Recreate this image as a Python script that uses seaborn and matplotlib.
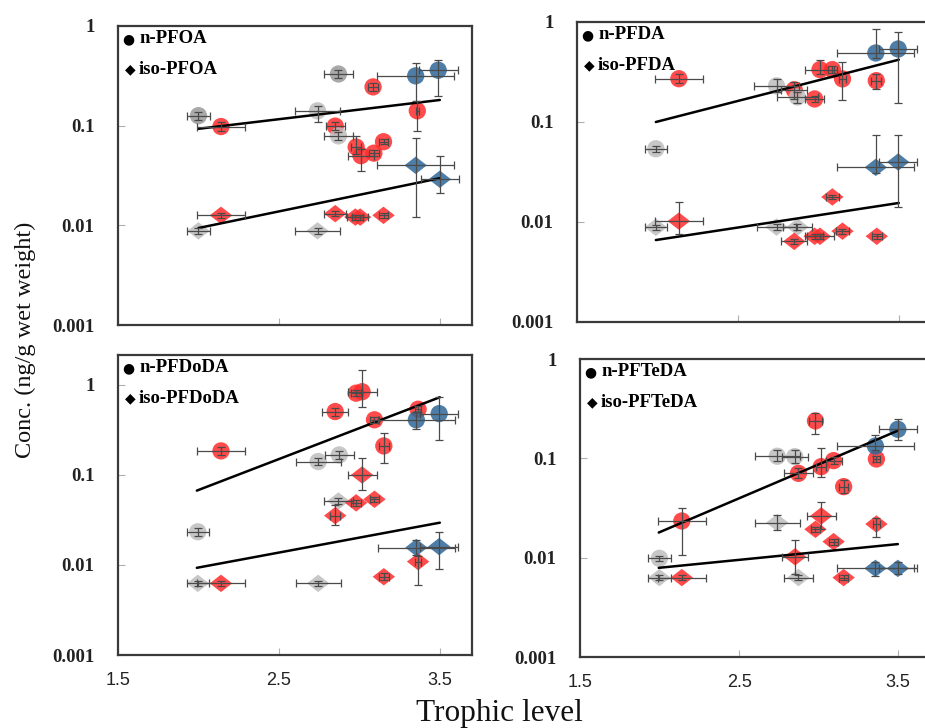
import numpy as np
import pandas as pd
import matplotlib
matplotlib.use("Agg")
import matplotlib.pyplot as plt
import seaborn as sns
from matplotlib.ticker import FixedLocator, NullLocator, FixedFormatter

sns.set_theme(style="white")
plt.rcParams["font.family"] = ["Liberation Serif", "DejaVu Serif", "DejaVu Sans"]

# ---------------- data ----------------
# Panel 1: PFOA
pfoa_n_tl = [2.00, 2.14, 2.87, 3.085, 2.74, 2.85, 2.87, 2.98, 3.01, 3.09, 3.15, 3.36, 3.35, 3.49]
pfoa_n_conc = [0.126, 0.098, 0.33, 0.245, 0.141, 0.099, 0.079, 0.061, 0.050, 0.053, 0.069, 0.141, 0.316, 0.36]
pfoa_n_xerr = [0.07, 0.15, 0.09, 0.03, 0.14, 0.06, 0.09, 0.03, 0.08, 0.03, 0.03, 0.01, 0.24, 0.12]
pfoa_n_lo = [0.115, 0.088, 0.30, 0.225, 0.108, 0.090, 0.072, 0.052, 0.035, 0.050, 0.065, 0.089, 0.178, 0.20]
pfoa_n_hi = [0.138, 0.108, 0.36, 0.265, 0.158, 0.108, 0.086, 0.078, 0.058, 0.057, 0.073, 0.178, 0.43, 0.46]
pfoa_n_grp = ["K", "R", "K", "R", "G", "R", "G", "R", "R", "R", "R", "R", "B", "B"]

pfoa_i_tl = [2.00, 2.14, 2.74, 2.85, 2.975, 3.005, 3.15, 3.35, 3.50]
pfoa_i_conc = [0.0088, 0.0126, 0.0088, 0.0131, 0.0121, 0.0121, 0.0126, 0.040, 0.029]
pfoa_i_xerr = [0.07, 0.15, 0.14, 0.07, 0.05, 0.05, 0.03, 0.24, 0.12]
pfoa_i_lo = [0.0082, 0.0118, 0.0082, 0.0123, 0.0114, 0.0114, 0.0118, 0.0121, 0.021]
pfoa_i_hi = [0.0094, 0.0134, 0.0094, 0.0139, 0.0128, 0.0128, 0.0134, 0.076, 0.050]
pfoa_i_grp = ["G", "R", "G", "R", "R", "R", "R", "B", "B"]

pfoa_fit_tl = [2.0, 3.5]
pfoa_fit_n = [0.093, 0.181]
pfoa_fit_i = [0.0094, 0.0297]

# Panel 2: PFDA
pfda_n_tl = [2.133, 1.99, 2.74, 2.85, 2.87, 2.977, 3.01, 3.087, 3.15, 3.36, 3.357, 3.496]
pfda_n_conc = [0.271, 0.054, 0.23, 0.21, 0.178, 0.17, 0.334, 0.334, 0.27, 0.259, 0.49, 0.537]
pfda_n_xerr = [0.15, 0.07, 0.14, 0.08, 0.13, 0.06, 0.09, 0.03, 0.02, 0.03, 0.24, 0.12]
pfda_n_lo = [0.245, 0.050, 0.20, 0.17, 0.155, 0.16, 0.30, 0.31, 0.165, 0.215, 0.44, 0.155]
pfda_n_hi = [0.30, 0.058, 0.27, 0.25, 0.20, 0.18, 0.42, 0.36, 0.40, 0.30, 0.86, 0.79]
pfda_n_grp = ["R", "G", "G", "R", "G", "R", "R", "R", "R", "R", "B", "B"]

pfda_i_tl = [1.99, 2.133, 2.74, 2.87, 2.85, 2.977, 3.01, 3.087, 3.15, 3.363, 3.357, 3.496]
pfda_i_conc = [0.00885, 0.0102, 0.0089, 0.0089, 0.0064, 0.0072, 0.0072, 0.0178, 0.0081, 0.0072, 0.0352, 0.0398]
pfda_i_xerr = [0.07, 0.15, 0.12, 0.09, 0.08, 0.05, 0.09, 0.04, 0.04, 0.03, 0.24, 0.12]
pfda_i_lo = [0.0083, 0.0075, 0.0083, 0.0083, 0.0060, 0.0068, 0.0068, 0.0168, 0.0076, 0.0068, 0.031, 0.0141]
pfda_i_hi = [0.0094, 0.0160, 0.0095, 0.0095, 0.0068, 0.0076, 0.0076, 0.0188, 0.0086, 0.0076, 0.074, 0.074]
pfda_i_grp = ["G", "R", "G", "G", "R", "R", "R", "R", "R", "R", "B", "B"]

pfda_fit_tl = [1.99, 3.5]
pfda_fit_n = [0.10, 0.42]
pfda_fit_i = [0.0066, 0.0155]

# Panel 3: PFDoDA
pfdoda_n_tl = [2.14, 1.996, 2.744, 2.875, 2.85, 2.98, 3.017, 3.094, 3.152, 3.365, 3.354, 3.496]
pfdoda_n_conc = [0.185, 0.0234, 0.141, 0.167, 0.506, 0.81, 0.84, 0.41, 0.21, 0.537, 0.41, 0.48]
pfdoda_n_xerr = [0.148, 0.07, 0.14, 0.09, 0.08, 0.03, 0.09, 0.03, 0.03, 0.02, 0.24, 0.12]
pfdoda_n_lo = [0.168, 0.021, 0.128, 0.152, 0.45, 0.75, 0.57, 0.38, 0.135, 0.50, 0.32, 0.245]
pfdoda_n_hi = [0.205, 0.026, 0.155, 0.183, 0.56, 0.87, 1.47, 0.44, 0.29, 0.58, 0.50, 0.74]
pfdoda_n_grp = ["R", "G", "G", "G", "R", "R", "R", "R", "R", "R", "B", "B"]

pfdoda_i_tl = [1.996, 2.14, 2.744, 2.87, 2.85, 2.98, 3.094, 3.017, 3.152, 3.365, 3.354, 3.496]
pfdoda_i_conc = [0.00625, 0.00625, 0.00625, 0.0514, 0.0353, 0.049, 0.0537, 0.10, 0.0074, 0.0109, 0.0156, 0.016]
pfdoda_i_xerr = [0.07, 0.148, 0.14, 0.09, 0.03, 0.03, 0.03, 0.09, 0.03, 0.02, 0.24, 0.12]
pfdoda_i_lo = [0.0059, 0.0059, 0.0059, 0.048, 0.0278, 0.045, 0.050, 0.068, 0.0068, 0.0060, 0.013, 0.009]
pfdoda_i_hi = [0.0066, 0.0066, 0.0066, 0.055, 0.046, 0.053, 0.057, 0.153, 0.0081, 0.0125, 0.019, 0.023]
pfdoda_i_grp = ["G", "R", "G", "G", "R", "R", "R", "R", "R", "R", "B", "B"]

pfdoda_fit_tl = [1.99, 3.5]
pfdoda_fit_n = [0.067, 0.73]
pfdoda_fit_i = [0.0093, 0.0295]

# Panel 4: PFTeDA
pfteda_n_tl = [1.999, 2.14, 2.74, 2.85, 2.873, 2.98, 3.016, 3.094, 3.157, 3.363, 3.357, 3.498]
pfteda_n_conc = [0.00985, 0.0234, 0.105, 0.104, 0.0706, 0.238, 0.0824, 0.0948, 0.0519, 0.0985, 0.133, 0.196]
pfteda_n_xerr = [0.07, 0.15, 0.14, 0.08, 0.09, 0.04, 0.03, 0.05, 0.03, 0.02, 0.24, 0.12]
pfteda_n_lo = [0.0093, 0.0106, 0.093, 0.09, 0.063, 0.174, 0.065, 0.088, 0.045, 0.092, 0.12, 0.153]
pfteda_n_hi = [0.0104, 0.0314, 0.12, 0.12, 0.08, 0.288, 0.126, 0.102, 0.06, 0.105, 0.17, 0.247]
pfteda_n_grp = ["G", "R", "G", "G", "R", "R", "R", "R", "R", "R", "B", "B"]

pfteda_i_tl = [1.999, 2.14, 2.74, 2.852, 2.873, 2.98, 3.016, 3.094, 3.157, 3.363, 3.357, 3.498]
pfteda_i_conc = [0.0063, 0.0063, 0.0225, 0.0102, 0.0063, 0.0193, 0.0263, 0.0145, 0.0063, 0.0218, 0.0078, 0.0078]
pfteda_i_xerr = [0.07, 0.15, 0.14, 0.08, 0.09, 0.03, 0.09, 0.03, 0.03, 0.02, 0.24, 0.12]
pfteda_i_lo = [0.0059, 0.0059, 0.019, 0.0069, 0.0059, 0.0181, 0.0195, 0.0135, 0.0059, 0.016, 0.0066, 0.0068]
pfteda_i_hi = [0.0067, 0.0067, 0.027, 0.015, 0.0067, 0.0205, 0.036, 0.0155, 0.0067, 0.025, 0.009, 0.009]
pfteda_i_grp = ["G", "R", "G", "R", "G", "R", "R", "R", "R", "R", "B", "B"]

pfteda_fit_tl = [1.995, 3.498]
pfteda_fit_n = [0.0179, 0.19]
pfteda_fit_i = [0.0079, 0.0137]

compounds = ["PFOA", "PFDA", "PFDoDA", "PFTeDA"]
ytick_vals = [0.001, 0.01, 0.1, 1]
ytick_labels = ["0.001", "0.01", "0.1", "1"]
xtick_vals = [1.5, 2.5, 3.5]
xtick_labels = ["1.5", "2.5", "3.5"]

palette = {"R": "#ff2b2b", "B": "#2f6898", "G": "#bdbdbd", "K": "#9a9a9a"}
diamond = [(-1.0, 0.0), (0.0, 0.78), (1.0, 0.0), (0.0, -0.78), (-1.0, 0.0)]

# ---------------- figure ----------------
W, H = 925, 728
fig = plt.figure(figsize=(W / 100, H / 100), dpi=100)


def px_axes(left, top, right, bottom):
    return fig.add_axes([left / W, 1 - bottom / H, (right - left) / W, (bottom - top) / H])


axes = [
    px_axes(118, 26, 472, 325),
    px_axes(577, 22, 931, 322),
    px_axes(118, 355, 472, 655),
    px_axes(580, 359, 930, 657),
]
ylims = [(0.001, 1), (0.001, 1), (0.001, 2.15), (0.001, 1)]

panels = [
    (pfoa_n_tl, pfoa_n_conc, pfoa_n_xerr, pfoa_n_lo, pfoa_n_hi, pfoa_n_grp,
     pfoa_i_tl, pfoa_i_conc, pfoa_i_xerr, pfoa_i_lo, pfoa_i_hi, pfoa_i_grp,
     pfoa_fit_tl, pfoa_fit_n, pfoa_fit_i),
    (pfda_n_tl, pfda_n_conc, pfda_n_xerr, pfda_n_lo, pfda_n_hi, pfda_n_grp,
     pfda_i_tl, pfda_i_conc, pfda_i_xerr, pfda_i_lo, pfda_i_hi, pfda_i_grp,
     pfda_fit_tl, pfda_fit_n, pfda_fit_i),
    (pfdoda_n_tl, pfdoda_n_conc, pfdoda_n_xerr, pfdoda_n_lo, pfdoda_n_hi, pfdoda_n_grp,
     pfdoda_i_tl, pfdoda_i_conc, pfdoda_i_xerr, pfdoda_i_lo, pfdoda_i_hi, pfdoda_i_grp,
     pfdoda_fit_tl, pfdoda_fit_n, pfdoda_fit_i),
    (pfteda_n_tl, pfteda_n_conc, pfteda_n_xerr, pfteda_n_lo, pfteda_n_hi, pfteda_n_grp,
     pfteda_i_tl, pfteda_i_conc, pfteda_i_xerr, pfteda_i_lo, pfteda_i_hi, pfteda_i_grp,
     pfteda_fit_tl, pfteda_fit_n, pfteda_fit_i),
]

sym_font = ["DejaVu Sans"]
txt_font = ["Liberation Serif", "DejaVu Serif"]

for k, (ax, pdata, name) in enumerate(zip(axes, panels, compounds)):
    (ntl, nc, nxe, nlo, nhi, ngrp, itl, ic, ixe, ilo, ihi, igrp, ftl, fn, fi) = pdata
    dn = pd.DataFrame({"tl": ntl, "conc": nc, "grp": ngrp})
    di = pd.DataFrame({"tl": itl, "conc": ic, "grp": igrp})
    sns.scatterplot(data=dn, x="tl", y="conc", hue="grp", palette=palette, marker="o",
                    s=155, linewidth=0, alpha=0.85, legend=False, ax=ax, zorder=2)
    sns.scatterplot(data=di, x="tl", y="conc", hue="grp", palette=palette, marker=diamond,
                    s=260, linewidth=0, alpha=0.85, legend=False, ax=ax, zorder=2)
    for tl, c, xe, lo, hi in [(ntl, nc, nxe, nlo, nhi), (itl, ic, ixe, ilo, ihi)]:
        c = np.asarray(c)
        yerr = np.vstack([c - np.asarray(lo), np.asarray(hi) - c])
        ax.errorbar(tl, c, xerr=xe, yerr=yerr, fmt="none", ecolor="#4a4a4a",
                    elinewidth=0.9, capsize=3.0, capthick=0.9, zorder=4)
    fit = pd.DataFrame({"tl": ftl + ftl, "conc": fn + fi, "form": ["n"] * len(ftl) + ["iso"] * len(ftl)})
    sns.lineplot(data=fit, x="tl", y="conc", units="form", estimator=None, color="black",
                 linewidth=1.8, ax=ax, zorder=3)

    ax.set_yscale("log")
    ax.set_xlim(1.5, 3.7)
    ax.set_ylim(*ylims[k])
    ax.set_xlabel("")
    ax.set_ylabel("")
    ax.yaxis.set_major_locator(FixedLocator(ytick_vals))
    ax.yaxis.set_major_formatter(FixedFormatter(ytick_labels))
    ax.yaxis.set_minor_locator(NullLocator())
    ax.xaxis.set_major_locator(FixedLocator(xtick_vals))
    ax.xaxis.set_major_formatter(FixedFormatter(xtick_labels))
    ax.tick_params(axis="both", which="major", direction="in", length=5, width=0.8,
                   color="#b0b0b0", left=True, bottom=True)
    ax.tick_params(axis="y", pad=17, labelsize=13.5, labelcolor="#222222")
    for lab in ax.get_yticklabels():
        lab.set_fontweight("bold")
    if k >= 2:
        ax.tick_params(axis="x", pad=12, labelsize=13, labelcolor="#222222")
        for lab in ax.get_xticklabels():
            lab.set_family(["Liberation Sans Narrow", "Liberation Sans", "DejaVu Sans"])
    else:
        ax.tick_params(axis="x", labelbottom=False)
    for sp in ax.spines.values():
        sp.set_color("#3a3a3a")
        sp.set_linewidth(1.6)
        sp.set_visible(True)
    ax.set_facecolor("white")
    ax.grid(False)

    ax.text(0.030, 0.957, "\u25cf", transform=ax.transAxes, ha="center", va="center",
            fontsize=10, color="black", family=sym_font)
    ax.text(0.060, 0.957, "n-" + name, transform=ax.transAxes, ha="left", va="center",
            fontsize=13.5, fontweight="bold", color="black", family=txt_font)
    ax.text(0.036, 0.855, "\u25c6", transform=ax.transAxes, ha="center", va="center",
            fontsize=10, color="black", family=sym_font)
    ax.text(0.058, 0.855, "iso-" + name, transform=ax.transAxes, ha="left", va="center",
            fontsize=13.5, fontweight="bold", color="black", family=txt_font)

fig.text(25 / W, 1 - 340 / H, "Conc. (ng/g wet weight)", rotation=90, ha="center", va="center",
         fontsize=17.5, color="#111111")
fig.text(499 / W, 1 - 713 / H, "Trophic level", ha="center", va="center",
         fontsize=22.5, color="#111111")

fig.savefig("out.png", dpi=100)
